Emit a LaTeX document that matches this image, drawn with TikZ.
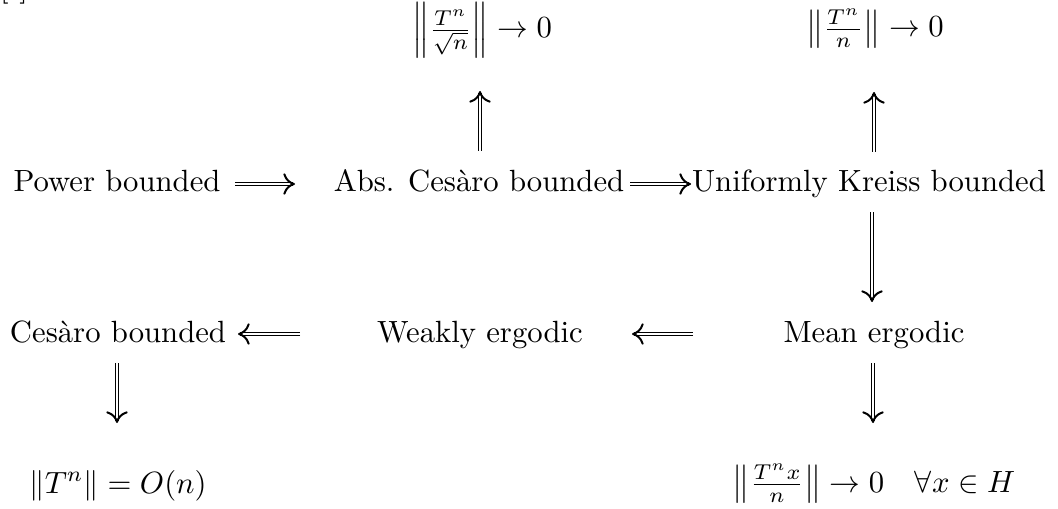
\documentclass[tikz,border=0pt]{standalone}
\usetikzlibrary{arrows.meta}
\begin{document}
\begin{tikzpicture}[x=0.3257pt,y=-0.3257pt,
  lbl/.style={anchor=base,inner sep=0pt,outer sep=0pt},
  imp/.style={double,double distance=0.85pt,line width=0.35pt,
    -{Computer Modern Rightarrow[length=3.8pt,width=7pt,line width=0.65pt]}}]
\useasboundingbox (0,0) rectangle (1058,509);
\node[lbl] (brk) at (14,-3) {[\hspace{3.5pt}]};
\node[lbl] (t1) at (482,38) {$\left\|\frac{T^n}{\sqrt{n}}\right\|\to 0$};
\node[lbl] (t2) at (875,37) {$\left\|\frac{T^n}{n}\right\|\to 0$};
\node[lbl] (pb) at (117,192) {Power bounded};
\node[lbl] (acb) at (479,192) {Abs. Ces\`aro bounded};
\node[lbl] (ukb) at (869,192) {Uniformly Kreiss bounded};
\node[lbl] (cb) at (118,342) {Ces\`aro bounded};
\node[lbl] (we) at (480,342) {Weakly ergodic};
\node[lbl] (me) at (874,342) {Mean ergodic};
\node[lbl] (on) at (118,493) {$\|T^n\|=O(n)$};
\node[lbl] (tx) at (874,492) {$\left\|\frac{T^nx}{n}\right\|\to 0\quad\forall x\in H$};
\coordinate (a1s) at (235,184); \coordinate (a1e) at (295,184);
\coordinate (a2s) at (630,184); \coordinate (a2e) at (691,184);
\coordinate (a3s) at (300,334); \coordinate (a3e) at (238,334);
\coordinate (a4s) at (693,334); \coordinate (a4e) at (632,334);
\coordinate (u1s) at (480,151); \coordinate (u1e) at (480,91);
\coordinate (u2s) at (874,152); \coordinate (u2e) at (874,92);
\coordinate (d1s) at (872,212); \coordinate (d1e) at (872,302);
\coordinate (d2s) at (873,363); \coordinate (d2e) at (873,423);
\coordinate (d3s) at (117,363); \coordinate (d3e) at (117,423);
\draw[imp] (a1s) -- (a1e);
\draw[imp] (a2s) -- (a2e);
\draw[imp] (a3s) -- (a3e);
\draw[imp] (a4s) -- (a4e);
\draw[imp] (u1s) -- (u1e);
\draw[imp] (u2s) -- (u2e);
\draw[imp] (d1s) -- (d1e);
\draw[imp] (d2s) -- (d2e);
\draw[imp] (d3s) -- (d3e);
\end{tikzpicture}
\end{document}
